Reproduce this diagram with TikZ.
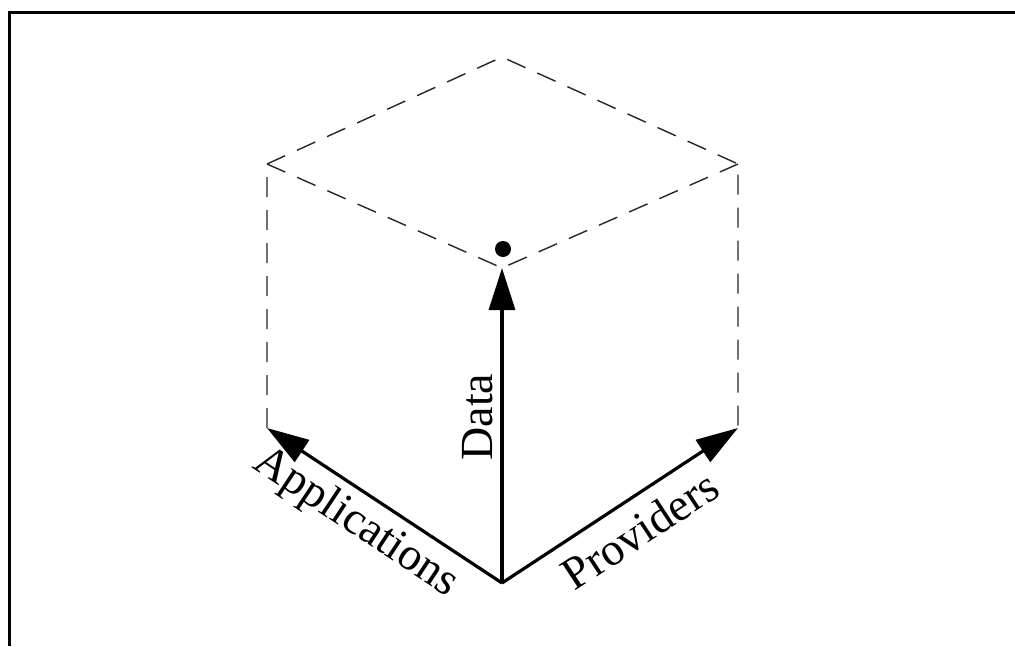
\documentclass[tikz,border=0pt]{standalone}
\usepackage{fontspec}
\setmainfont{Liberation Serif}
\usetikzlibrary{arrows.meta}
\begin{document}
\begin{tikzpicture}[x=1pt,y=-1pt,
  frame/.style={line width=2.5pt,black},
  edge/.style={line width=1.4pt,dash pattern=on 20pt off 13pt,black!85},
  axis/.style={line width=3.2pt,-{Triangle[length=42pt,width=26pt]}},
  lab/.style={font=\fontsize{46}{50}\selectfont,inner sep=0pt}]
\useasboundingbox (0,0) rectangle (1015,646);
\fill[white] (0,0) rectangle (1015,646);
\draw[frame] (9.5,646) -- (9.5,12.5) -- (1015,12.5);
\coordinate (O) at (502,583);
\coordinate (L) at (267,428);
\coordinate (R) at (738,428);
\coordinate (F) at (502,268);
\coordinate (LT) at (267,164);
\coordinate (RT) at (738,164);
\coordinate (B) at (502,57);
\draw[edge] (L) -- (LT) -- (B) -- (RT) -- (R);
\draw[edge] (LT) -- (F) -- (RT);
\fill (503,249) circle (8pt);
\draw[axis] (O) -- (L);
\draw[axis] (O) -- (R);
\draw[axis] (O) -- (F);
\node[lab,rotate=90] (data) at (478,417) {Data};
\node[lab,rotate=-33.6] (app) at (356,523) {Applications};
\node[lab,rotate=33.3] (prov) at (640,530) {Providers};
\end{tikzpicture}
\end{document}
